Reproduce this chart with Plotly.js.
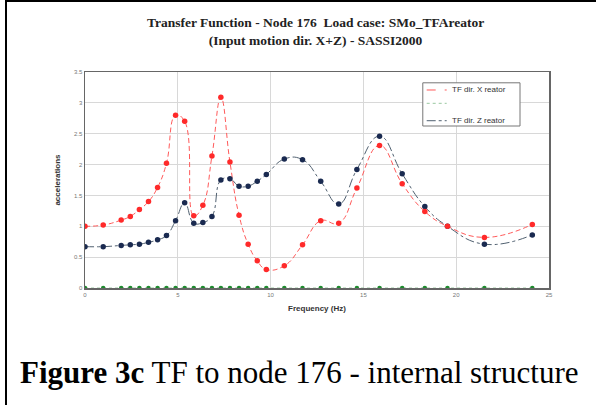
<!DOCTYPE html>
<html>
<head>
<meta charset="utf-8">
<script src="https://cdn.plot.ly/plotly-3.0.1.min.js"></script>
<style>
  html, body { margin: 0; padding: 0; background: #fff; }
  #wrap { position: relative; width: 596px; height: 405px; overflow: hidden; }
  #chart { position: absolute; left: 0; top: 0; width: 596px; height: 405px; }
  #bl { position: absolute; left: 5px; top: 0; width: 2px; height: 405px; background: #000; }
  #bt { position: absolute; left: 5px; top: 0; width: 591px; height: 2px; background: #000; }
</style>
</head>
<body>
<div id="wrap">
  <div id="chart"></div>
  <div id="bl"></div>
  <div id="bt"></div>
</div>
<script>
// Frequencies (Hz)
const freq = [0, 0.98, 1.95, 2.44, 2.93, 3.42, 3.91, 4.39, 4.88, 5.37, 5.86, 6.35, 6.84, 7.32, 7.81, 8.30, 8.79, 9.28, 9.77, 10.74, 11.72, 12.70, 13.67, 14.65, 15.87, 17.09, 18.31, 19.53, 21.52, 24.10];
// TF dir. X reator
const tfX = [1.00, 1.02, 1.10, 1.16, 1.27, 1.40, 1.63, 2.02, 2.80, 2.70, 1.17, 1.34, 2.14, 3.09, 2.04, 1.18, 0.71, 0.44, 0.30, 0.36, 0.70, 1.09, 1.05, 1.62, 2.31, 1.69, 1.24, 1.00, 0.82, 1.03];
// third series (unnamed), lies on zero
const tfY = [0, 0, 0, 0, 0, 0, 0, 0, 0, 0, 0, 0, 0, 0, 0, 0, 0, 0, 0, 0, 0, 0, 0, 0, 0, 0, 0, 0, 0, 0];
// TF dir. Z reator
const tfZ = [0.67, 0.67, 0.69, 0.70, 0.71, 0.74, 0.78, 0.85, 1.09, 1.38, 1.05, 1.06, 1.16, 1.75, 1.77, 1.65, 1.65, 1.73, 1.84, 2.09, 2.08, 1.73, 1.36, 1.92, 2.46, 1.85, 1.32, 1.00, 0.71, 0.86];

const legendNames = ['TF dir. X reator', '', 'TF dir. Z reator'];
const yTicks = [0, 0.5, 1, 1.5, 2, 2.5, 3, 3.5];
const xTicks = [0, 5, 10, 15, 20, 25];

const red = '#ff2a2a', navy = '#1a2a50', green = '#1e8a2e';
const redLine = '#ff5a5a', greenLine = '#9ac8a0', navyLine = '#506070';

const traces = [
  {x: freq, y: tfX, name: legendNames[0], mode: 'lines', line: {color: redLine, width: 1, dash: '5px,3px', shape: 'spline', smoothing: 1.3}, hoverinfo: 'skip'},
  {x: freq, y: tfY, name: legendNames[1], mode: 'lines', line: {color: greenLine, width: 1, dash: 'dot'}, hoverinfo: 'skip'},
  {x: freq, y: tfZ, name: legendNames[2], mode: 'lines', line: {color: navyLine, width: 1, dash: 'dashdot', shape: 'spline', smoothing: 1.3}, hoverinfo: 'skip'},
  {x: freq, y: tfY, mode: 'markers', showlegend: false, marker: {color: green, size: 4.5, symbol: 'circle'}},
  {x: freq, y: tfZ, mode: 'markers', showlegend: false, marker: {color: navy, size: 5.5, symbol: 'circle'}},
  {x: freq, y: tfX, mode: 'markers', showlegend: false, marker: {color: red, size: 5.5, symbol: 'circle'}}
];

// Compact legend box (drawn in paper coordinates)
const lgX0 = 0.728, lgX1 = 0.9375, lgY0 = 0.75, lgY1 = 0.95;
const rowY = [0.9167, 0.855, 0.7745];
const sampleX0 = 0.7364, sampleX1 = 0.7795, textX = 0.7866;
const sampleStyles = [
  {color: redLine, dash: 'dash'},
  {color: greenLine, dash: 'dot'},
  {color: navyLine, dash: 'dashdot'}
];

const shapes = [
  {type: 'rect', xref: 'paper', yref: 'paper', x0: lgX0, x1: lgX1, y0: lgY0, y1: lgY1,
   fillcolor: '#fff', line: {color: '#777', width: 1}, layer: 'above'}
];
const annotations = [
  {
    text: '<b>Figure 3c</b> TF to node 176 - internal structure',
    xref: 'paper', yref: 'paper', x: -0.145, y: -0.392, xanchor: 'left', yanchor: 'middle',
    showarrow: false, font: {family: 'Liberation Serif, Times New Roman, serif', size: 31, color: '#000'}
  }
];
sampleStyles.forEach((s, i) => {
  shapes.push({type: 'line', xref: 'paper', yref: 'paper', x0: sampleX0, x1: sampleX1, y0: rowY[i], y1: rowY[i],
    line: {color: s.color, width: 1, dash: s.dash}, layer: 'above'});
  if (legendNames[i]) {
    annotations.push({text: legendNames[i], xref: 'paper', yref: 'paper', x: textX, y: rowY[i],
      xanchor: 'left', yanchor: 'middle', showarrow: false, font: {size: 8, color: '#333'}});
  }
});

const layout = {
  width: 596, height: 405,
  margin: {l: 85, r: 47, t: 72, b: 117},
  paper_bgcolor: '#fff', plot_bgcolor: '#fff',
  font: {family: 'Liberation Sans, Arial, sans-serif', color: '#555'},
  title: {
    text: '<b>Transfer Function - Node 176  Load case: SMo_TFAreator<br>(Input motion dir. X+Z) - SASSI2000</b>',
    font: {family: 'Liberation Serif, Times New Roman, serif', size: 13.5, color: '#222'},
    x: 0.497, xanchor: 'center', xref: 'paper',
    y: 1 - 27/405, yanchor: 'top', yref: 'container'
  },
  xaxis: {
    range: [0, 25], tickvals: xTicks, ticktext: xTicks.map(String),
    showgrid: true, gridcolor: '#d8d8d8', gridwidth: 1,
    showline: true, linecolor: '#666', linewidth: 1.5, mirror: true,
    zeroline: false, ticks: '', tickfont: {size: 6, color: '#777'},
    title: {text: '<b>Frequency (Hz)</b>', font: {size: 8, color: '#333'}, standoff: 8}
  },
  yaxis: {
    range: [0, 3.5], tickvals: yTicks, ticktext: yTicks.map(String),
    showgrid: true, gridcolor: '#d8d8d8', gridwidth: 1,
    showline: true, linecolor: '#666', linewidth: 1.5, mirror: true,
    zeroline: false, ticks: '', tickfont: {size: 6, color: '#777'},
    title: {text: '<b>accelerations</b>', font: {size: 8, color: '#333'}, standoff: 12}
  },
  shapes: shapes,
  annotations: annotations,
  showlegend: false
};

Plotly.newPlot('chart', traces, layout, {displayModeBar: false, staticPlot: true});
</script>
</body>
</html>
